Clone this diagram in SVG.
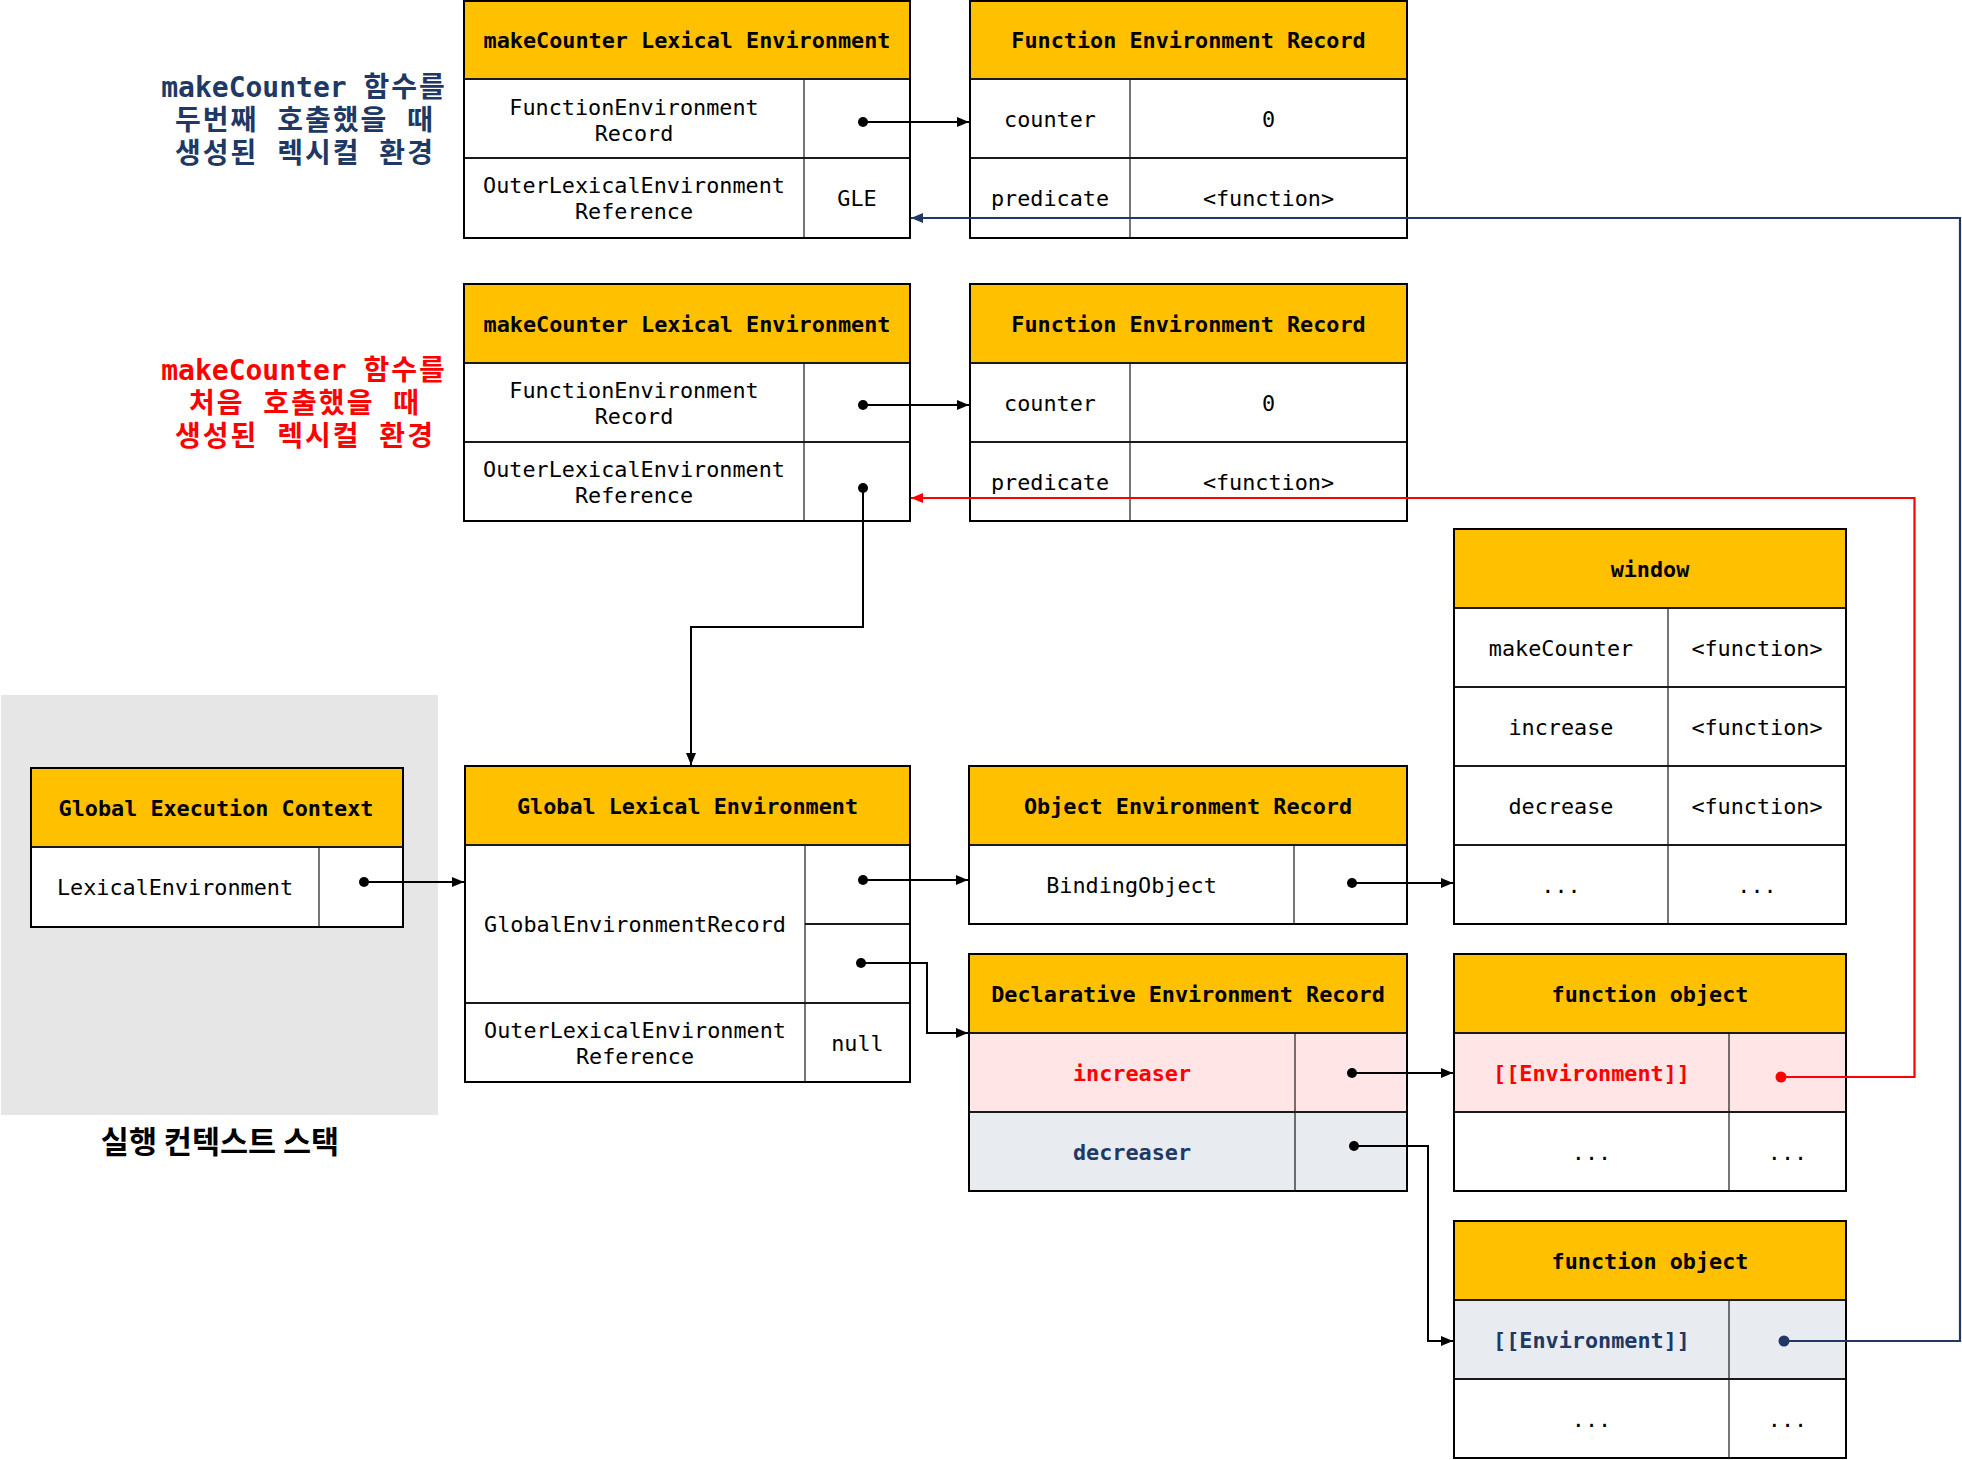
<svg xmlns="http://www.w3.org/2000/svg" width="1962" height="1460" viewBox="0 0 1962 1460">
  <style>
    .hd { fill: #FFC000; }
    .bd { fill: #FFFFFF; }
    .pk { fill: #FFE5E6; }
    .gb { fill: #E8EBF0; }
    .fr { fill: none; stroke: #000; stroke-width: 2; }
    .ln { fill: none; stroke: #1a1a1a; stroke-width: 2; }
    .dv { fill: none; stroke: #1a1a1a; stroke-width: 1.2; }
    text { font-family: "DejaVu Sans Mono", "Liberation Mono", "Noto Sans CJK KR", monospace; font-size: 21.8px; fill: #000; text-anchor: middle; }
    .h { font-weight: bold; }
    .red { fill: #FF0000; font-weight: bold; }
    .navy { fill: #203864; font-weight: bold; }
    .lbl { font-size: 28px; font-weight: bold; }
    .ko { letter-spacing: 2px; }
    .stk { font-family: "Noto Sans CJK KR", sans-serif; font-size: 30.5px; font-weight: bold; }
    .cn { fill: none; stroke: #000; stroke-width: 2; }
    .cr { fill: none; stroke: #FF0000; stroke-width: 2.2; }
    .cb { fill: none; stroke: #203864; stroke-width: 2.2; }
  </style>
  <defs>
    <marker id="ah" viewBox="0 0 12 10" refX="12" refY="5" markerWidth="12" markerHeight="10" markerUnits="userSpaceOnUse" orient="auto">
      <path d="M0,0L12,5L0,10z" fill="#000"/>
    </marker>
    <marker id="ah-red" viewBox="0 0 12 10" refX="12" refY="5" markerWidth="12" markerHeight="10" markerUnits="userSpaceOnUse" orient="auto">
      <path d="M0,0L12,5L0,10z" fill="#FF0000"/>
    </marker>
    <marker id="ah-navy" viewBox="0 0 12 10" refX="12" refY="5" markerWidth="12" markerHeight="10" markerUnits="userSpaceOnUse" orient="auto">
      <path d="M0,0L12,5L0,10z" fill="#203864"/>
    </marker>
  </defs>

  <rect width="1962" height="1460" fill="#FFFFFF"/>

  <!-- execution context stack backdrop -->
  <g id="stack">
    <rect x="1" y="695" width="437" height="420" fill="#E6E6E6"/>
    <text class="stk" x="220" y="1153">실행 컨텍스트 스택</text>
  </g>

  <!-- captions -->
  <g id="caption-second">
    <text class="lbl navy" x="304" y="97">makeCounter <tspan class="ko">함수를</tspan></text>
    <text class="lbl navy ko" x="305" y="130">두번째 호출했을 때</text>
    <text class="lbl navy ko" x="305" y="163">생성된 렉시컬 환경</text>
  </g>
  <g id="caption-first">
    <text class="lbl red" x="304" y="380">makeCounter <tspan class="ko">함수를</tspan></text>
    <text class="lbl red ko" x="305" y="413">처음 호출했을 때</text>
    <text class="lbl red ko" x="305" y="446">생성된 렉시컬 환경</text>
  </g>

  <!-- makeCounter lexical environment (second call) -->
  <g id="mc-le-2">
    <rect class="hd" x="464" y="1" width="446" height="78"/>
    <rect class="bd" x="464" y="79" width="446" height="159"/>
    <path class="ln" d="M464,79H910M464,158H910"/>
    <path class="dv" d="M804,79V238"/>
    <rect class="fr" x="464" y="1" width="446" height="237"/>
    <text class="h" x="687" y="48">makeCounter Lexical Environment</text>
    <text x="634" y="115">FunctionEnvironment</text>
    <text x="634" y="141">Record</text>
    <text x="634" y="193">OuterLexicalEnvironment</text>
    <text x="634" y="219">Reference</text>
    <text x="857" y="206">GLE</text>
  </g>

  <!-- function environment record (second call) -->
  <g id="fer-2">
    <rect class="hd" x="970" y="1" width="437" height="78"/>
    <rect class="bd" x="970" y="79" width="437" height="159"/>
    <path class="ln" d="M970,79H1407M970,158H1407"/>
    <path class="dv" d="M1130,79V238"/>
    <rect class="fr" x="970" y="1" width="437" height="237"/>
    <text class="h" x="1188.5" y="48">Function Environment Record</text>
    <text x="1050" y="127">counter</text>
    <text x="1268.5" y="127">0</text>
    <text x="1050" y="206">predicate</text>
    <text x="1268.5" y="206">&lt;function&gt;</text>
  </g>

  <!-- makeCounter lexical environment (first call) -->
  <g id="mc-le-1">
    <rect class="hd" x="464" y="284" width="446" height="79"/>
    <rect class="bd" x="464" y="363" width="446" height="158"/>
    <path class="ln" d="M464,363H910M464,442H910"/>
    <path class="dv" d="M804,363V521"/>
    <rect class="fr" x="464" y="284" width="446" height="237"/>
    <text class="h" x="687" y="331.5">makeCounter Lexical Environment</text>
    <text x="634" y="397.5">FunctionEnvironment</text>
    <text x="634" y="423.5">Record</text>
    <text x="634" y="476.5">OuterLexicalEnvironment</text>
    <text x="634" y="502.5">Reference</text>
  </g>

  <!-- function environment record (first call) -->
  <g id="fer-1">
    <rect class="hd" x="970" y="284" width="437" height="79"/>
    <rect class="bd" x="970" y="363" width="437" height="158"/>
    <path class="ln" d="M970,363H1407M970,442H1407"/>
    <path class="dv" d="M1130,363V521"/>
    <rect class="fr" x="970" y="284" width="437" height="237"/>
    <text class="h" x="1188.5" y="331.5">Function Environment Record</text>
    <text x="1050" y="410.5">counter</text>
    <text x="1268.5" y="410.5">0</text>
    <text x="1050" y="489.5">predicate</text>
    <text x="1268.5" y="489.5">&lt;function&gt;</text>
  </g>

  <!-- global execution context -->
  <g id="gec">
    <rect class="hd" x="31" y="768" width="372" height="79"/>
    <rect class="bd" x="31" y="847" width="372" height="80"/>
    <path class="ln" d="M31,847H403"/>
    <path class="dv" d="M319,847V927"/>
    <rect class="fr" x="31" y="768" width="372" height="159"/>
    <text class="h" x="216" y="815.5">Global Execution Context</text>
    <text x="175" y="895">LexicalEnvironment</text>
  </g>

  <!-- global lexical environment -->
  <g id="gle">
    <rect class="hd" x="465" y="766" width="445" height="79"/>
    <rect class="bd" x="465" y="845" width="445" height="237"/>
    <path class="ln" d="M465,845H910M465,1003H910M805,924H910"/>
    <path class="dv" d="M805,845V1082"/>
    <rect class="fr" x="465" y="766" width="445" height="316"/>
    <text class="h" x="687.5" y="813.5">Global Lexical Environment</text>
    <text x="635" y="932">GlobalEnvironmentRecord</text>
    <text x="635" y="1037.5">OuterLexicalEnvironment</text>
    <text x="635" y="1063.5">Reference</text>
    <text x="857.5" y="1050.5">null</text>
  </g>

  <!-- object environment record -->
  <g id="oer">
    <rect class="hd" x="969" y="766" width="438" height="79"/>
    <rect class="bd" x="969" y="845" width="438" height="79"/>
    <path class="ln" d="M969,845H1407"/>
    <path class="dv" d="M1294,845V924"/>
    <rect class="fr" x="969" y="766" width="438" height="158"/>
    <text class="h" x="1188" y="813.5">Object Environment Record</text>
    <text x="1131.5" y="892.5">BindingObject</text>
  </g>

  <!-- window object -->
  <g id="window">
    <rect class="hd" x="1454" y="529" width="392" height="79"/>
    <rect class="bd" x="1454" y="608" width="392" height="316"/>
    <path class="ln" d="M1454,608H1846M1454,687H1846M1454,766H1846M1454,845H1846"/>
    <path class="dv" d="M1668,608V924"/>
    <rect class="fr" x="1454" y="529" width="392" height="395"/>
    <text class="h" x="1650" y="576.5">window</text>
    <text x="1561" y="655.5">makeCounter</text>
    <text x="1757" y="655.5">&lt;function&gt;</text>
    <text x="1561" y="734.5">increase</text>
    <text x="1757" y="734.5">&lt;function&gt;</text>
    <text x="1561" y="813.5">decrease</text>
    <text x="1757" y="813.5">&lt;function&gt;</text>
    <text x="1561" y="892.5">...</text>
    <text x="1757" y="892.5">...</text>
  </g>

  <!-- declarative environment record -->
  <g id="der">
    <rect class="hd" x="969" y="954" width="438" height="79"/>
    <rect class="pk" x="969" y="1033" width="438" height="79"/>
    <rect class="gb" x="969" y="1112" width="438" height="79"/>
    <path class="ln" d="M969,1033H1407M969,1112H1407"/>
    <path class="dv" d="M1295,1033V1191"/>
    <rect class="fr" x="969" y="954" width="438" height="237"/>
    <text class="h" x="1188" y="1001.5">Declarative Environment Record</text>
    <text class="red" x="1132" y="1080.5">increaser</text>
    <text class="navy" x="1132" y="1159.5">decreaser</text>
  </g>

  <!-- function object for increaser -->
  <g id="fo-inc">
    <rect class="hd" x="1454" y="954" width="392" height="79"/>
    <rect class="pk" x="1454" y="1033" width="392" height="79"/>
    <rect class="bd" x="1454" y="1112" width="392" height="79"/>
    <path class="ln" d="M1454,1033H1846M1454,1112H1846"/>
    <path class="dv" d="M1729,1033V1191"/>
    <rect class="fr" x="1454" y="954" width="392" height="237"/>
    <text class="h" x="1650" y="1001.5">function object</text>
    <text class="red" x="1591.5" y="1080.5">[[Environment]]</text>
    <text x="1591.5" y="1159.5">...</text>
    <text x="1787.5" y="1159.5">...</text>
  </g>

  <!-- function object for decreaser -->
  <g id="fo-dec">
    <rect class="hd" x="1454" y="1221" width="392" height="79"/>
    <rect class="gb" x="1454" y="1300" width="392" height="79"/>
    <rect class="bd" x="1454" y="1379" width="392" height="79"/>
    <path class="ln" d="M1454,1300H1846M1454,1379H1846"/>
    <path class="dv" d="M1729,1300V1458"/>
    <rect class="fr" x="1454" y="1221" width="392" height="237"/>
    <text class="h" x="1650" y="1268.5">function object</text>
    <text class="navy" x="1591.5" y="1347.5">[[Environment]]</text>
    <text x="1591.5" y="1426.5">...</text>
    <text x="1787.5" y="1426.5">...</text>
  </g>

  <!-- references between records -->
  <g id="connectors">
    <path class="cn" d="M863,122H969" marker-end="url(#ah)"/>
    <circle cx="863" cy="122" r="5"/>
    <path class="cn" d="M863,405H969" marker-end="url(#ah)"/>
    <circle cx="863" cy="405" r="5"/>
    <path class="cn" d="M863,488V627H691V765" marker-end="url(#ah)"/>
    <circle cx="863" cy="488" r="5"/>
    <path class="cn" d="M364,882H464" marker-end="url(#ah)"/>
    <circle cx="364" cy="882" r="5"/>
    <path class="cn" d="M863,880H968" marker-end="url(#ah)"/>
    <circle cx="863" cy="880" r="5"/>
    <path class="cn" d="M861,963H927V1033H968" marker-end="url(#ah)"/>
    <circle cx="861" cy="963" r="5"/>
    <path class="cn" d="M1352,883H1453" marker-end="url(#ah)"/>
    <circle cx="1352" cy="883" r="5"/>
    <path class="cn" d="M1352,1073H1453" marker-end="url(#ah)"/>
    <circle cx="1352" cy="1073" r="5"/>
    <path class="cn" d="M1354,1146H1428V1341H1453" marker-end="url(#ah)"/>
    <circle cx="1354" cy="1146" r="5"/>
    <path class="cr" d="M1781,1077H1914.5V498H911" marker-end="url(#ah-red)"/>
    <circle cx="1781" cy="1077" r="5.5" fill="#FF0000"/>
    <path class="cb" d="M1784,1341H1960V218H911" marker-end="url(#ah-navy)"/>
    <circle cx="1784" cy="1341" r="5.5" fill="#203864"/>
  </g>
</svg>
